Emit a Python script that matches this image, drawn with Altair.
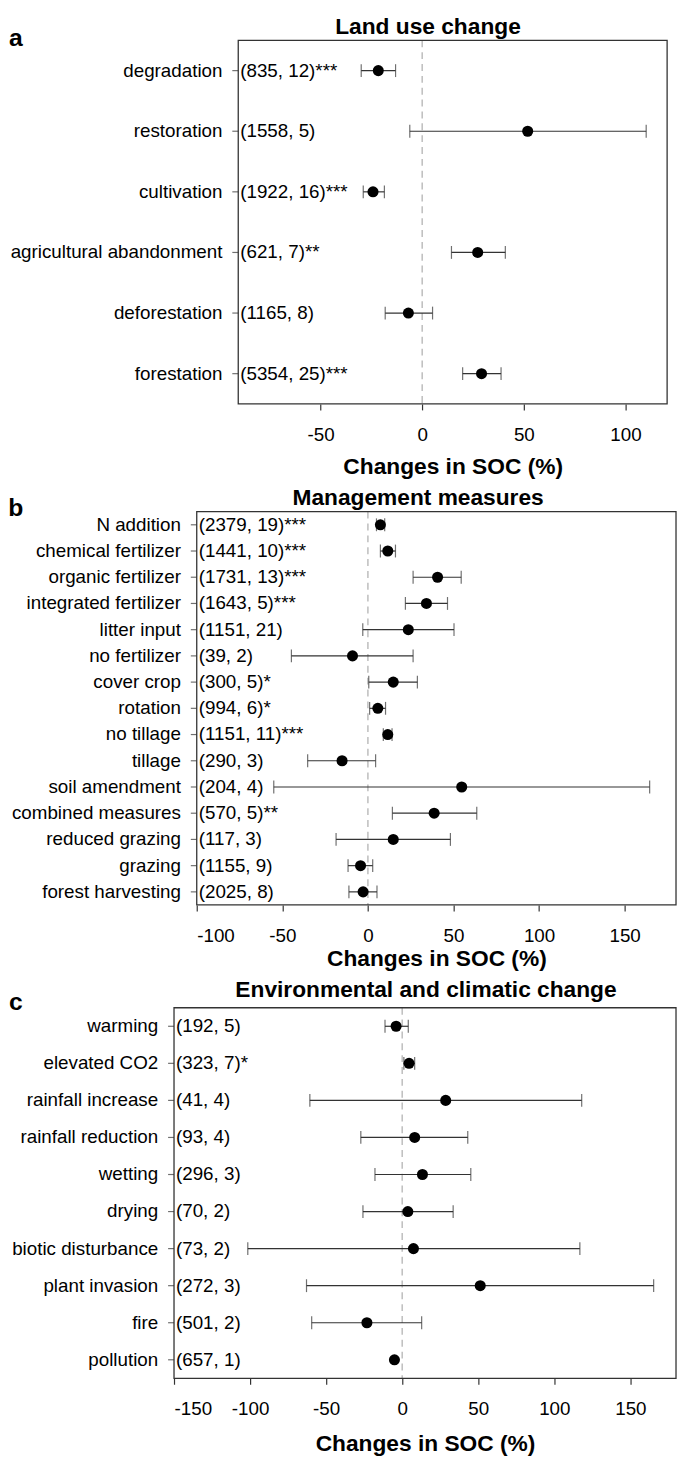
import altair as alt
import pandas as pd

FONT = "Liberation Sans"

# ---------------- Panel a: Land use change ----------------
a_cats = ["degradation", "restoration", "cultivation", "agricultural abandonment",
          "deforestation", "forestation"]
a_mean = [-21.6, 51.9, -24.2, 27.3, -6.8, 29.2]
a_lo = [-30.0, -6.1, -29.0, 14.4, -18.2, 19.9]
a_hi = [-13.1, 110.2, -18.6, 40.9, 5.1, 38.8]
a_obs = [835, 1558, 1922, 621, 1165, 5354]
a_stu = [12, 5, 16, 7, 8, 25]
a_sig = ["***", "", "***", "**", "", "***"]

# ---------------- Panel b: Management measures ----------------
b_cats = ["N addition", "chemical fertilizer", "organic fertilizer", "integrated fertilizer",
          "litter input", "no fertilizer", "cover crop", "rotation", "no tillage", "tillage",
          "soil amendment", "combined measures", "reduced grazing", "grazing", "forest harvesting"]
b_mean = [7.3, 11.6, 40.7, 34.2, 23.6, -9.0, 14.8, 5.8, 11.6, -15.1, 54.8, 38.7, 14.8, -4.3, -2.8]
b_lo = [5.0, 7.3, 26.4, 21.9, -3.0, -44.7, 0.5, 1.0, 9.0, -35.2, -55.0, 14.3, -18.6, -11.6, -11.1]
b_hi = [9.8, 16.1, 54.5, 46.5, 50.3, 26.4, 28.9, 10.3, 14.1, 4.5, 164.6, 63.6, 48.2, 2.8, 5.3]
b_obs = [2379, 1441, 1731, 1643, 1151, 39, 300, 994, 1151, 290, 204, 570, 117, 1155, 2025]
b_stu = [19, 10, 13, 5, 21, 2, 5, 6, 11, 3, 4, 5, 3, 9, 8]
b_sig = ["***", "***", "***", "***", "", "", "*", "*", "***", "", "", "**", "", "", ""]

# ---------------- Panel c: Environmental and climatic change ----------------
c_cats = ["warming", "elevated CO2", "rainfall increase", "rainfall reduction", "wetting",
          "drying", "biotic disturbance", "plant invasion", "fire", "pollution"]
c_mean = [-4.0, 4.5, 28.6, 8.2, 13.3, 3.7, 7.4, 51.3, -23.2, -5.1]
c_lo = [-11.3, 1.1, -60.7, -27.2, -17.9, -25.8, -101.5, -62.9, -59.5, None]
c_hi = [4.0, 8.2, 118.0, 43.1, 45.1, 33.5, 116.8, 165.3, 12.8, None]
c_obs = [192, 323, 41, 93, 296, 70, 73, 272, 501, 657]
c_stu = [5, 7, 4, 4, 3, 2, 2, 3, 2, 1]
c_sig = ["", "*", "", "", "", "", "", "", "", ""]

X_TITLE = "Changes in SOC (%)"
DARK = "#333333"


def panel(cats, mean, lo, hi, obs, stu, sig, letter, title, domain, ticks,
          width, height, xrange, title_x, title_y, title_pad, letter_x, letter_y):
    df = pd.DataFrame({"cat": cats, "mean": mean, "lo": lo, "hi": hi})
    df["label"] = ["(%d, %d)%s" % (o, s, g) for o, s, g in zip(obs, stu, sig)]

    scale = alt.Scale(domain=domain, range=xrange, nice=False, zero=False)
    axis = alt.Axis(values=ticks, title=X_TITLE, titlePadding=title_pad,
                    labelPadding=16, tickSize=6, labelExpr="'' + datum.value")

    def mkx(field):
        return alt.X(field, type="quantitative", scale=scale, axis=axis)

    def dx(v):
        return alt.X(datum=v, type="quantitative", scale=scale, axis=axis)

    ysc = alt.Y("cat:N", sort=cats, title=None, axis=None)

    base = alt.Chart(df)
    one = pd.DataFrame({"k": [0]})
    frame = alt.Chart(one).mark_rect(fill=None, stroke=DARK, strokeWidth=1.3).encode(
        x=dx(domain[0]), x2=alt.X2(datum=domain[1]), y=alt.value(0), y2=alt.value(height))
    zero = alt.Chart(one).mark_rule(
        color="#bdbdbd", strokeDash=[7, 5], strokeWidth=1.5
    ).encode(x=dx(0))
    yticks = base.mark_tick(orient="horizontal", size=6, thickness=1.2, color=DARK,
                            xOffset=-3).encode(x=dx(domain[0]), y=ysc)
    ylabels = base.mark_text(align="right", baseline="middle", fontSize=19, font=FONT,
                             color="black", dx=-16).encode(
        x=dx(domain[0]), y=ysc, text="cat:N")
    bars = base.mark_rule(color=DARK, strokeWidth=1.2).encode(
        x=mkx("lo"), x2="hi:Q", y=ysc)
    cap_lo = base.mark_tick(orient="vertical", size=13, thickness=1.2, color=DARK).encode(
        x=mkx("lo"), y=ysc)
    cap_hi = base.mark_tick(orient="vertical", size=13, thickness=1.2, color=DARK).encode(
        x=mkx("hi"), y=ysc)
    pts = base.mark_circle(size=125, color="black", opacity=1).encode(x=mkx("mean"), y=ysc)
    txt = base.mark_text(align="left", baseline="middle", fontSize=19, font=FONT,
                         color="black", dx=2).encode(x=dx(domain[0]), y=ysc, text="label:N")
    let = alt.Chart(pd.DataFrame({"letter": [letter]})).mark_text(
        fontSize=25, fontWeight="bold", font=FONT, align="center", baseline="middle",
        color="black"
    ).encode(x=alt.value(letter_x), y=alt.value(letter_y), text="letter:N")
    ttl = alt.Chart(pd.DataFrame({"title": [title]})).mark_text(
        fontSize=23, fontWeight="bold", font=FONT, align="center", baseline="middle",
        color="black"
    ).encode(x=alt.value(title_x), y=alt.value(title_y), text="title:N")

    return alt.layer(zero, frame, yticks, ylabels, bars, cap_lo, cap_hi, pts, txt, let,
                     ttl).properties(width=width, height=height)


# common plot origin; each box starts where its own scale range starts
pa = panel(a_cats, a_mean, a_lo, a_hi, a_obs, a_stu, a_sig, "a", "Land use change",
           [-90.5, 120.5], [-50, 0, 50, 100], 499, 368, [65, 499], 257, -13, 11, -160, -2)
pb = panel(b_cats, b_mean, b_lo, b_hi, b_obs, b_stu, b_sig, "b", "Management measures",
           [-100, 180], [-100, -50, 0, 50, 100, 150], 508, 398, [23, 508], 247, -14, 2,
           -160, -4)
pc = panel(c_cats, c_mean, c_lo, c_hi, c_obs, c_stu, c_sig, "c",
           "Environmental and climatic change",
           [-150, 180], [-150, -100, -50, 0, 50, 100, 150], 508, 375, [0, 508], 255, -18, 14,
           -160, -6)

chart = alt.vconcat(pa, pb, pc, spacing=9, padding=0).configure_view(
    strokeWidth=0
).configure_axis(
    grid=False, domain=False, tickColor=DARK, tickWidth=1.2,
    labelFont=FONT, labelFontSize=19, labelColor="black",
    titleFont=FONT, titleFontSize=23, titleFontWeight="bold", titleColor="black",
)

chart.save("out.html", embed_options={"renderer": "svg", "actions": False})
